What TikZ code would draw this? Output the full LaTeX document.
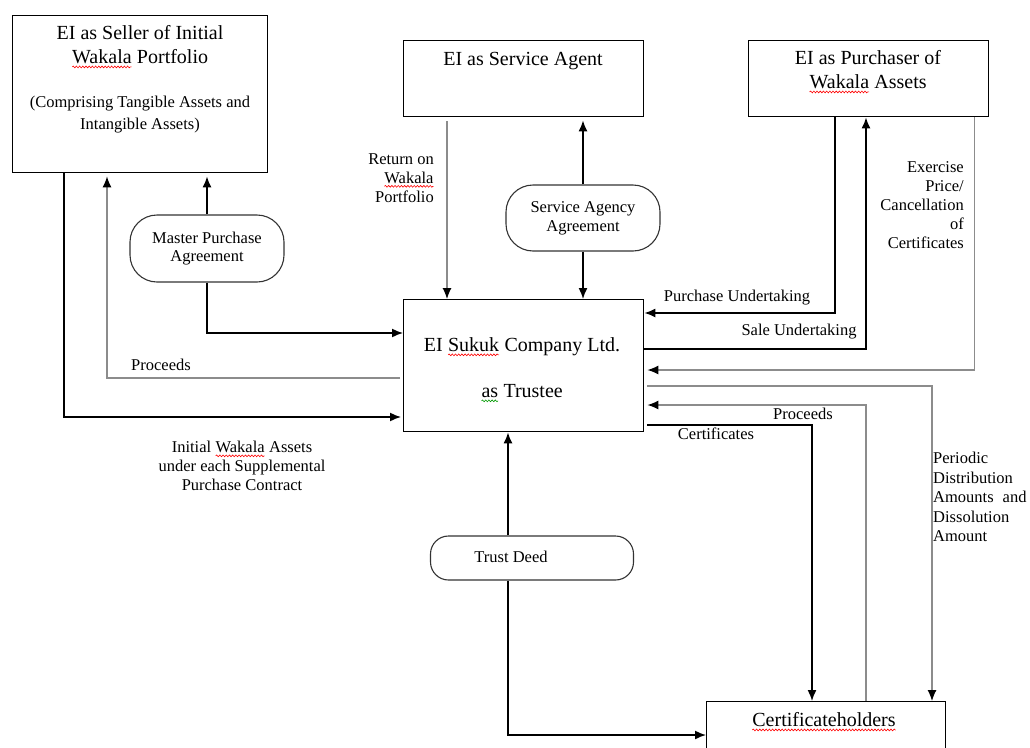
\documentclass[tikz,border=0pt]{standalone}
\usepackage{fontspec}
\setmainfont{Liberation Serif}
\usepackage{tikz}
\usetikzlibrary{positioning}
\usetikzlibrary{arrows.meta}
\usetikzlibrary{calc}
\usetikzlibrary{decorations.pathmorphing}
\tikzset{>={Latex[length=11pt,width=9pt,color=black]}}
\newcommand{\bigtxt}{\fontsize{20}{24}\selectfont}
\newcommand{\smltxt}{\fontsize{16.5}{18.8}\selectfont}
\tikzstyle{squig}=[line width=0.6pt,decorate,decoration={snake,amplitude=0.9pt,segment length=3.2pt}]
\tikzstyle{plainword}=[draw=none,fill=none,inner sep=0pt,outer sep=0pt,minimum width=0pt,minimum height=0pt,anchor=center,shape=rectangle,rounded corners=0pt,align=center]
\newcommand{\wavy}[2]{\tikz[baseline=(wword.base),x=1pt,y=1pt]{\node[plainword] (wword) {#2}; \draw[squig,#1] ([yshift=-3pt]wword.base west) -- ([yshift=-3pt]wword.base east);}}
\newcommand{\redwave}[1]{\wavy{red}{#1}}
\newcommand{\greenwave}[1]{\wavy{green!60!black}{#1}}
\tikzstyle{pnode}=[black,draw=black,line width=1.4pt,shape=rectangle,fill=white,anchor=north west,inner sep=0pt]
\tikzstyle{anode}=[black,draw=black!80,line width=1.1pt,shape=rectangle,rounded corners=18pt,fill=white,font=\smltxt,align=center,inner sep=0pt]
\tikzstyle{btxt}=[font=\bigtxt,align=center,inner sep=0pt]
\tikzstyle{stxt}=[font=\smltxt,align=center,inner sep=0pt]
\tikzstyle{baro}=[->,line width=1.5pt,color=black]
\tikzstyle{garo}=[->,line width=1.2pt,color=black!45]

\begin{document}
\begin{tikzpicture}[x=1pt,y=-1pt]

	\useasboundingbox (0,0) rectangle (1030,747);
	\clip (0,0) rectangle (1030,747);

	% Parties
	\node[pnode, minimum width=255pt, minimum height=157pt] (seller) at (12,15) {};
	\node[btxt] (sellertxt) at (140,47) {EI as Seller of Initial\\ \redwave{Wakala} Portfolio};
	\node[stxt, font=\fontsize{16.5}{22}\selectfont] (sellersub) at (140,115) {(Comprising Tangible Assets and\\ Intangible Assets)};
	\node[pnode, minimum width=240pt, minimum height=76pt] (service) at (403,40) {};
	\node[btxt] (servicetxt) at (523,61) {EI as Service Agent};
	\node[pnode, minimum width=240pt, minimum height=76pt] (purch) at (748,40) {};
	\node[btxt] (purchtxt) at (868,72) {EI as Purchaser of\\ \redwave{Wakala} Assets};
	\node[pnode, minimum width=240pt, minimum height=132pt] (trustee) at (403,299) {};
	\node[btxt] (trusteetxt) at (522,370) {EI \redwave{Sukuk} Company Ltd.\\[22pt]\greenwave{as} Trustee};
	\node[pnode, minimum width=239pt, minimum height=80pt] (cert) at (706,701) {};
	\node[btxt] (certtxt) at (824,722) {\redwave{Certificateholders}};

	% Agreements
	\node[anode, rounded corners=27pt, minimum width=154pt, minimum height=67pt] (mpa) at (207,248.5) {Master Purchase\\ Agreement};
	\node[anode, rounded corners=27pt, minimum width=154pt, minimum height=66pt] (saa) at (583,218) {Service Agency\\ Agreement};
	\node[anode, minimum width=203pt, minimum height=44pt] (deed) at (532,558) {};
	\node[stxt] (deedtxt) at (511,557) {Trust Deed};

	% Seller side
	\draw[baro, shorten >=3pt] (mpa.north) -- (mpa.north |- seller.south);
	\draw[baro] (mpa.south) |- ($(trustee.north west)+(0,34)$);
	\draw[baro, shorten >=2pt] ($(seller.south west)+(52,0)$) |- ($(trustee.north west)+(0,118)$);
	\draw[garo, shorten >=3pt] ($(trustee.north west)+(-3,79)$) -| ($(seller.south west)+(95,0)$);
	\node[stxt] (proceedsl) at (161,365) {Proceeds};
	\node[stxt] (initial) at (242,466) {Initial \redwave{Wakala} Assets\\ under each Supplemental\\ Purchase Contract};

	% Service agent
	\coordinate (retstart) at ($(service.south west)+(44,4)$);
	\draw[garo] (retstart) -- (retstart |- trustee.north);
	\node[stxt, align=right, anchor=east] (return) at (434,178) {Return on\\ \redwave{Wakala}\\ Portfolio};
	\draw[baro, shorten >=3pt] (saa.north) -- (saa.north |- service.south);
	\draw[baro] (saa.south) -- (saa.south |- trustee.north);

	% Purchaser
	\draw[baro] ($(purch.south west)+(87,0)$) |- ($(trustee.north east)+(0,14)$);
	\draw[baro] ($(trustee.north east)+(0,50)$) -| ($(purch.south west)+(118,0)$);
	\draw[garo, shorten >=3pt] ($(purch.south east)+(-15,0)$) |- ($(trustee.north east)+(0,71)$);
	\node[stxt] (purchund) at (737,298) {Purchase Undertaking};
	\node[stxt] (saleund) at (799,332) {Sale Undertaking};
	\node[stxt, align=right, anchor=east, font=\fontsize{16.5}{19}\selectfont] (exercise) at (964,205) {Exercise\\ Price/\\ Cancellation\\ of\\ Certificates};

	% Certificateholders
	\draw[garo] ($(trustee.north east)+(3,87)$) -| ($(cert.north west)+(226,0)$);
	\draw[garo, shorten >=3pt] ($(cert.north west)+(160,0)$) |- ($(trustee.north east)+(0,106)$);
	\draw[baro] ($(trustee.north east)+(3,126)$) -| ($(cert.north west)+(106,0)$);
	\node[stxt] (proceedsr) at (803,414) {Proceeds};
	\node[stxt] (certs) at (716,434) {Certificates};
	\node[stxt, align=left, anchor=west, font=\fontsize{16.5}{19.5}\selectfont] (periodic) at (933,497) {Periodic\\ Distribution\\ Amounts\hspace{9pt}and\\ Dissolution\\ Amount};

	% Trust deed
	\coordinate (deedtop) at ($(deed.north)+(-24,0)$);
	\coordinate (deedbot) at ($(deed.south)+(-24,0)$);
	\draw[baro] (deedtop) -- (deedtop |- trustee.south);
	\draw[baro] (deedbot) |- ($(cert.north west)+(0,34)$);

\end{tikzpicture}
\end{document}
